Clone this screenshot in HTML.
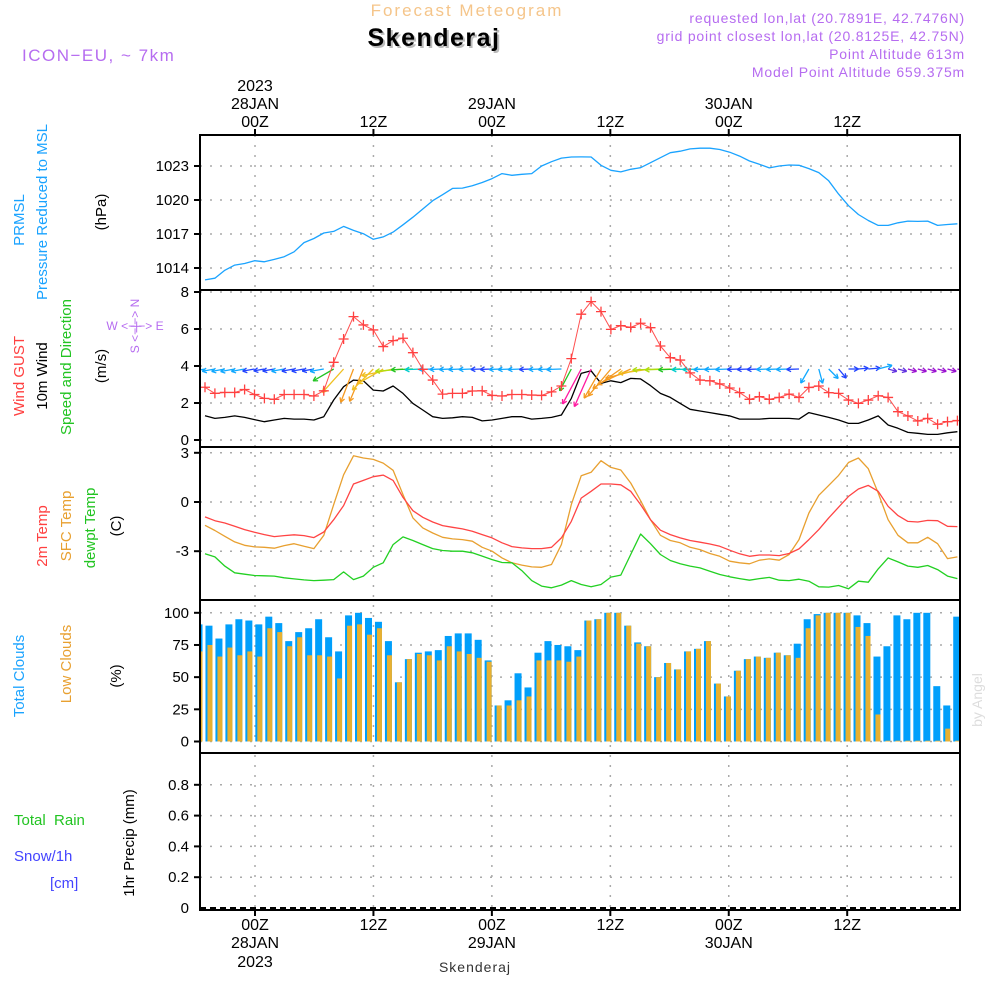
<!DOCTYPE html>
<html><head><meta charset="utf-8"><title>Meteogram Skenderaj</title>
<style>
html,body{margin:0;padding:0;background:#fff;}
svg{display:block;}
text{font-family:"Liberation Sans",sans-serif;}
</style></head>
<body>
<svg id="chart" width="1000" height="1000" viewBox="0 0 1000 1000" xmlns="http://www.w3.org/2000/svg">
<defs><clipPath id="plotclip"><rect x="200" y="135" width="760" height="775"/></clipPath></defs>
<rect x="0" y="0" width="1000" height="1000" fill="#fff"/>
<g>
<text x="467" y="16" text-anchor="middle" font-size="17" fill="#f5c58a" letter-spacing="2">Forecast Meteogram</text>
<text x="436" y="48" text-anchor="middle" font-size="25" font-weight="bold" fill="#bbb" letter-spacing="1.5">Skenderaj</text>
<text x="434" y="46" text-anchor="middle" font-size="25" font-weight="bold" fill="#000" letter-spacing="1.5">Skenderaj</text>
<text x="22" y="61" font-size="17" fill="#b66cf0" letter-spacing="1.5">ICON−EU, ~ 7km</text>
<text x="965" y="23" text-anchor="end" font-size="14" fill="#b66cf0" letter-spacing="0.8">requested lon,lat (20.7891E, 42.7476N)</text>
<text x="965" y="41" text-anchor="end" font-size="14" fill="#b66cf0" letter-spacing="0.8">grid point closest lon,lat (20.8125E, 42.75N)</text>
<text x="965" y="59" text-anchor="end" font-size="14" fill="#b66cf0" letter-spacing="0.8">Point Altitude 613m</text>
<text x="965" y="77" text-anchor="end" font-size="14" fill="#b66cf0" letter-spacing="0.8">Model Point Altitude 659.375m</text>
</g>
<g id="grid"></g>
<g id="marks" clip-path="url(#plotclip)"></g>
<g id="frame"></g>
<g id="labels">
<text transform="translate(24,220) rotate(-90)" text-anchor="middle" font-size="15" fill="#1aa3ff">PRMSL</text>
<text transform="translate(47,212) rotate(-90)" text-anchor="middle" font-size="15" fill="#1aa3ff">Pressure Reduced to MSL</text>
<text transform="translate(106,212) rotate(-90)" text-anchor="middle" font-size="15" fill="#000">(hPa)</text>
<text transform="translate(24,376) rotate(-90)" text-anchor="middle" font-size="15" fill="#ff4040">Wind GUST</text>
<text transform="translate(47,376) rotate(-90)" text-anchor="middle" font-size="15" fill="#000">10m Wind</text>
<text transform="translate(71,367) rotate(-90)" text-anchor="middle" font-size="15" fill="#22c422">Speed and Direction</text>
<text transform="translate(106,366) rotate(-90)" text-anchor="middle" font-size="15" fill="#000">(m/s)</text>
<text transform="translate(139,326) rotate(-90)" text-anchor="middle" font-size="12" fill="#b66cf0">S &lt;−|−&gt; N</text>
<text x="135" y="330" text-anchor="middle" font-size="12" fill="#b66cf0">W &lt;−|−&gt; E</text>
<text transform="translate(47,536) rotate(-90)" text-anchor="middle" font-size="15" fill="#ff4040">2m Temp</text>
<text transform="translate(71,526) rotate(-90)" text-anchor="middle" font-size="15" fill="#e8a030">SFC Temp</text>
<text transform="translate(95,528) rotate(-90)" text-anchor="middle" font-size="15" fill="#22c422">dewpt Temp</text>
<text transform="translate(121,526) rotate(-90)" text-anchor="middle" font-size="15" fill="#000">(C)</text>
<text transform="translate(24,676) rotate(-90)" text-anchor="middle" font-size="15" fill="#1aa3ff">Total Clouds</text>
<text transform="translate(71,664) rotate(-90)" text-anchor="middle" font-size="15" fill="#e8a030">Low Clouds</text>
<text transform="translate(121,676) rotate(-90)" text-anchor="middle" font-size="15" fill="#000">(%)</text>
<text x="14" y="825" font-size="15" fill="#22c422" xml:space="preserve">Total  Rain</text>
<text x="14" y="861" font-size="15" fill="#4444ff">Snow/1h</text>
<text x="50" y="888" font-size="15" fill="#4444ff">[cm]</text>
<text transform="translate(134,843) rotate(-90)" text-anchor="middle" font-size="15" fill="#000">1hr Precip (mm)</text>
<text transform="translate(982,700) rotate(-90)" text-anchor="middle" font-size="14" fill="#ddd" font-family="Liberation Serif, serif">by Angel</text>
<text x="475" y="972" text-anchor="middle" font-size="14" fill="#333" font-family="Liberation Serif, serif" letter-spacing="1">Skenderaj</text>
</g>
</svg>
<script>
// ---- data (hourly, index 0..76) ----
const timeTicks = [0, 12, 24, 36, 48, 60];
const topTickLabels = ["00Z", "12Z", "00Z", "12Z", "00Z", "12Z"];
const dayLabels = ["28JAN", "", "29JAN", "", "30JAN", ""];
const pressure = [1012.95,1013.1,1013.8,1014.26,1014.4,1014.64,1014.55,1014.76,1015.0,1015.43,1016.24,1016.6,1017.09,1017.23,1017.67,1017.32,1017.03,1016.53,1016.74,1017.17,1017.81,1018.48,1019.21,1019.94,1020.47,1021.02,1021.05,1021.25,1021.54,1021.89,1022.33,1022.18,1022.27,1022.33,1023.0,1023.38,1023.7,1023.79,1023.8,1023.79,1023.06,1022.62,1022.48,1022.71,1022.85,1023.29,1023.73,1024.17,1024.31,1024.51,1024.57,1024.57,1024.46,1024.22,1023.87,1023.44,1023.15,1022.83,1023.0,1023.09,1023.06,1022.77,1022.42,1021.69,1020.52,1019.5,1018.72,1018.19,1017.76,1017.76,1017.99,1018.14,1018.11,1018.14,1017.76,1017.84,1017.9];
const gust = [2.85,2.52,2.57,2.57,2.73,2.46,2.25,2.2,2.46,2.46,2.46,2.38,2.66,4.2,5.46,6.67,6.22,5.95,5.05,5.37,5.5,4.72,3.82,3.24,2.48,2.52,2.52,2.65,2.66,2.41,2.38,2.46,2.46,2.43,2.41,2.6,2.92,4.4,6.8,7.48,6.94,5.98,6.18,6.09,6.31,6.07,5.08,4.45,4.32,3.63,3.24,3.2,3.03,2.81,2.56,2.2,2.34,2.2,2.3,2.48,2.3,2.84,2.92,2.56,2.52,2.16,1.98,2.16,2.39,2.3,1.53,1.3,1.03,1.17,0.85,0.99,1.05];
const windSpeed = [1.31,1.17,1.22,1.3,1.22,1.1,0.99,1.08,1.17,1.13,1.13,1.08,1.26,2.16,2.88,3.24,3.2,2.7,2.65,2.92,2.52,1.98,1.62,1.26,1.17,1.2,1.26,1.22,1.03,1.08,1.17,1.26,1.26,1.13,1.17,1.22,1.35,2.25,3.6,3.74,3.06,3.2,3.1,3.33,3.3,2.94,2.52,2.3,1.98,1.66,1.57,1.48,1.39,1.3,1.13,1.13,1.13,1.17,1.17,1.17,1.13,1.48,1.35,1.22,1.08,0.9,0.9,1.08,1.3,0.81,0.63,0.41,0.36,0.3,0.3,0.39,0.45];
const windDir = [170,170,170,170,170,170,170,170,170,170,170,170,170,150,132,111,113,135,150,168,175,178,178,178,178,178,178,178,178,178,178,178,178,178,178,178,178,118,118,114,120,130,145,155,165,172,178,178,178,178,178,178,178,178,178,178,178,178,178,178,178,120,75,45,50,0,-5,-5,-15,15,15,15,15,15,15,15,15];
const temp2m = [-0.91,-1.14,-1.28,-1.48,-1.68,-1.85,-1.99,-2.11,-2.05,-2.0,-2.05,-2.17,-1.83,-1.08,-0.22,1.1,1.32,1.54,1.64,1.32,0.28,-0.53,-0.93,-1.22,-1.44,-1.54,-1.64,-1.78,-1.99,-2.19,-2.49,-2.72,-2.8,-2.84,-2.84,-2.76,-2.19,-1.18,0.24,0.65,1.1,1.1,1.05,0.65,-0.16,-1.08,-1.72,-1.99,-2.19,-2.35,-2.45,-2.56,-2.7,-2.94,-3.16,-3.31,-3.23,-3.23,-3.27,-3.14,-2.86,-2.29,-1.68,-0.97,-0.32,0.34,0.79,1.01,0.65,-0.26,-0.83,-1.18,-1.22,-1.12,-1.14,-1.48,-1.5];
const tempSfc = [-1.42,-1.74,-2.09,-2.43,-2.64,-2.74,-2.76,-2.82,-2.66,-2.54,-2.7,-2.84,-2.03,-0.16,1.66,2.82,2.68,2.6,2.37,1.93,0.45,-0.97,-1.58,-1.89,-2.15,-2.25,-2.29,-2.39,-2.76,-3.0,-3.41,-3.71,-3.85,-3.96,-3.98,-3.81,-2.6,-0.16,1.6,1.81,2.52,2.11,1.95,1.16,0.08,-1.08,-2.03,-2.35,-2.49,-2.76,-2.9,-3.14,-3.31,-3.61,-3.71,-3.77,-3.55,-3.47,-3.55,-3.2,-2.29,-0.67,0.41,1.01,1.62,2.41,2.68,2.03,0.55,-1.08,-2.03,-2.49,-2.49,-2.15,-2.54,-3.45,-3.35];
const dewpt = [-3.16,-3.35,-3.91,-4.32,-4.4,-4.48,-4.5,-4.52,-4.62,-4.69,-4.75,-4.79,-4.77,-4.73,-4.26,-4.73,-4.52,-3.98,-3.71,-2.6,-2.13,-2.35,-2.6,-2.84,-2.96,-3.0,-3.0,-3.1,-3.3,-3.51,-3.69,-3.71,-4.18,-4.79,-5.13,-5.23,-5.07,-4.79,-5.03,-5.17,-5.03,-4.58,-4.46,-3.2,-1.95,-2.54,-3.2,-3.57,-3.77,-3.91,-4.02,-4.22,-4.42,-4.56,-4.67,-4.77,-4.67,-4.6,-4.77,-4.79,-4.71,-4.83,-5.17,-5.19,-5.09,-5.29,-4.83,-4.89,-4.08,-3.41,-3.65,-3.91,-3.98,-3.87,-4.12,-4.52,-4.67];
const totalClouds = [91,90,80,91,95,94,91,97,92,78,85,88,95,81,70,98,100,96,93,78,46,64,69,70,71,82,84,84,79,63,28,32,53,42,69,78,75,74,71,94,95,100,100,90,77,74,50,61,56,70,72,78,45,35,55,64,66,65,69,67,76,95,99,100,100,100,98,92,66,74,98,95,100,100,43,28,97];
const lowClouds = [70,75,66,73,67,70,66,88,85,74,81,67,67,66,49,90,91,83,88,67,46,64,68,67,63,74,70,68,65,62,28,28,32,35,63,63,63,62,66,94,95,100,100,90,76,74,50,61,56,70,72,78,45,35,55,64,66,65,69,67,65,88,98,100,100,100,89,82,21,0,0,0,0,0,0,10,0];
const precip = new Array(77).fill(0);
const pressTicks = [1014, 1017, 1020, 1023];
const windTicks = [0, 2, 4, 6, 8];
const tempTicks = [-3, 0, 3];
const cloudTicks = [0, 25, 50, 75, 100];
const precipTicks = [0, 0.2, 0.4, 0.6, 0.8];

// ---- layout / scales ----
const NS = "http://www.w3.org/2000/svg";
const X0 = 200, X1 = 960;
const xTime = h => 255 + h * 9.87;
const xPt = i => 205 + i * 9.9;
const xBar = i => 199 + i * 9.97;
const yPress = v => 268 - (v - 1014) * (34 / 3);
const yWind = v => 440 - v * 18.5;
const yTemp = v => 502 - v * 16.4;
const yCloud = v => 741.5 - v * 1.287;
const yPrecip = v => 908 - v * 154;
const panels = [[135, 290], [290, 447], [447, 600], [600, 753], [753, 910]];

function el(tag, attrs, parent) {
  const e = document.createElementNS(NS, tag);
  for (const k in attrs) e.setAttribute(k, attrs[k]);
  parent.appendChild(e);
  return e;
}
const grid = document.getElementById('grid');
const marks = document.getElementById('marks');
const frame = document.getElementById('frame');
const labels = document.getElementById('labels');

timeTicks.forEach(h => {
  const l = el('line', {x1: xTime(h), x2: xTime(h), y1: 135, y2: 910, stroke: '#aaa', 'stroke-width': 1.5, 'stroke-dasharray': '2,8'}, grid);
  
  
});
function yAxis(ticks, scale, name, fmt) {
  ticks.forEach(t => {
    const y = scale(t);
    const g = el('line', {x1: X0, x2: X1, y1: y, y2: y, stroke: '#aaa', 'stroke-width': 1.5, 'stroke-dasharray': '2,8'}, grid);
    
    
    const tk = el('line', {x1: X0 - 6, x2: X0, y1: y, y2: y, stroke: '#000', 'stroke-width': 2}, frame);
    
    
    const tx = el('text', {x: 189, y: y + 5, 'text-anchor': 'end', 'font-size': 15, fill: '#000'}, labels);
    tx.textContent = fmt(t);
    
    
  });
}
yAxis(pressTicks, yPress, 'pressure', t => String(t));
yAxis(windTicks, yWind, 'wind', t => String(t));
yAxis(tempTicks, yTemp, 'temp', t => String(t));
yAxis(cloudTicks, yCloud, 'clouds', t => String(t));
yAxis(precipTicks.slice(1), yPrecip, 'precip', t => t.toFixed(1));
{
  const tx = el('text', {x: 189, y: yPrecip(0) + 5, 'text-anchor': 'end', 'font-size': 15, fill: '#000'}, labels);
  tx.textContent = '0';
  
  
}

panels.forEach(p => {
  const r = el('rect', {x: X0, y: p[0], width: X1 - X0, height: p[1] - p[0], fill: 'none', stroke: '#000', 'stroke-width': 2}, frame);
  
  
});
timeTicks.forEach((h, k) => {
  const x = xTime(h);
  [[135, 129], [910, 916]].forEach(([a, b]) => {
    const t = el('line', {x1: x, x2: x, y1: a, y2: b, stroke: '#000', 'stroke-width': 2}, frame);
    
    
  });
  const t1 = el('text', {x: x, y: 127, 'text-anchor': 'middle', 'font-size': 16, fill: '#000'}, labels);
  t1.textContent = topTickLabels[k];
  
  
  const b1 = el('text', {x: x, y: 930, 'text-anchor': 'middle', 'font-size': 16, fill: '#000'}, labels);
  b1.textContent = topTickLabels[k];
  
  
  if (dayLabels[k]) {
    const d1 = el('text', {x: x, y: 109, 'text-anchor': 'middle', 'font-size': 16, fill: '#000'}, labels);
    d1.textContent = dayLabels[k];
    
    
    const d2 = el('text', {x: x, y: 948, 'text-anchor': 'middle', 'font-size': 16, fill: '#000'}, labels);
    d2.textContent = dayLabels[k];
    
    
  }
  if (k === 0) {
    const y1 = el('text', {x: x, y: 91, 'text-anchor': 'middle', 'font-size': 16, fill: '#000'}, labels);
    y1.textContent = '2023';
    
    
    const y2 = el('text', {x: x, y: 967, 'text-anchor': 'middle', 'font-size': 16, fill: '#000'}, labels);
    y2.textContent = '2023';
    
    
  }
});

function polyline(vals, ys, color, name, w) {
  const pts = vals.map((v, i) => xPt(i).toFixed(1) + ',' + ys(v).toFixed(1)).join(' ');
  const p = el('polyline', {points: pts, fill: 'none', stroke: color, 'stroke-width': w || 1.3, 'stroke-linejoin': 'round'}, marks);
  
  
  return p;
}
polyline(pressure, yPress, '#1aa3ff', 'pressure-line', 1.3);
totalClouds.forEach((v, i) => {
  const b = el('rect', {x: xBar(i) - 3.5, y: yCloud(v), width: 7, height: yCloud(0) - yCloud(v), fill: '#009ffb'}, marks);
  
  
});
lowClouds.forEach((v, i) => {
  const h = Math.max(yCloud(0) - yCloud(v), 0.8);
  const b = el('rect', {x: xBar(i) - 1.5, y: yCloud(0) - h, width: 5, height: h, fill: '#e8b030'}, marks);
  
  
});
polyline(tempSfc, yTemp, '#e8a030', 'sfc-temp-line', 1.3);
polyline(temp2m, yTemp, '#ff4444', '2m-temp-line', 1.3);
polyline(dewpt, yTemp, '#22d022', 'dewpt-line', 1.3);
polyline(windSpeed, yWind, '#000', 'wind-speed-line', 1.3);
function windColor(s) {
  if (s >= 3.5) return '#ff1aa0';
  if (s >= 3.0) return '#f59a20';
  if (s >= 2.6) return '#f0c020';
  if (s >= 2.3) return '#b0dd10';
  if (s >= 1.9) return '#22c422';
  if (s >= 1.5) return '#00cccc';
  if (s >= 1.15) return '#10a8ff';
  if (s >= 0.85) return '#2244ff';
  if (s >= 0.6) return '#6030e0';
  return '#9a10d0';
}
windDir.forEach((d, i) => {
  const s = windSpeed[i];
  const len = Math.max(9, 11 * s);
  const a = d * Math.PI / 180;
  const x0 = xPt(i), y0 = 369;
  const x1 = x0 + Math.cos(a) * len, y1 = y0 + Math.sin(a) * len;
  const c = windColor(s);
  const g = el('g', {stroke: c, 'stroke-width': 1.3, fill: 'none'}, marks);
  
  
  el('line', {x1: x0, y1: y0, x2: x1, y2: y1}, g);
  const hl = 5;
  [a + Math.PI - 0.5, a + Math.PI + 0.5].forEach(b => {
    el('line', {x1: x1, y1: y1, x2: x1 + Math.cos(b) * hl, y2: y1 + Math.sin(b) * hl}, g);
  });
});
polyline(gust, yWind, '#ff5050', 'gust-line', 1);
gust.forEach((v, i) => {
  const x = xPt(i), y = yWind(v);
  const g = el('path', {d: `M${x - 5},${y}H${x + 5}M${x},${y - 5}V${y + 5}`, stroke: '#ff4040', 'stroke-width': 1.3}, marks);
  
  
});
{
  const pl = el('line', {x1: X0, x2: X1, y1: yPrecip(0), y2: yPrecip(0), stroke: '#000', 'stroke-width': 2, 'stroke-dasharray': '6,4'}, marks);
  
  
}
precip.forEach((v, i) => {
  if (v > 0) {
    const b = el('rect', {x: xBar(i) - 3, y: yPrecip(v), width: 6, height: yPrecip(0) - yPrecip(v), fill: '#22c422'}, marks);
    
    
  }
});
</script>
</body></html>
